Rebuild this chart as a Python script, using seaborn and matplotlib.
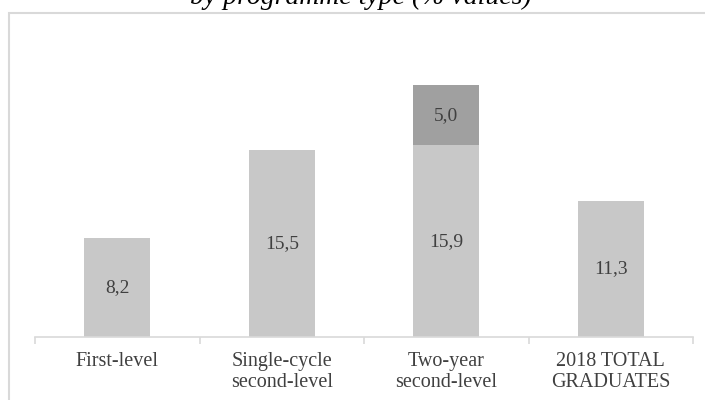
import matplotlib
matplotlib.use("Agg")
import matplotlib.pyplot as plt
import seaborn as sns
import pandas as pd
from matplotlib.patches import Rectangle

categories = ["First-level", "Single-cycle\nsecond-level", "Two-year\nsecond-level", "2018 TOTAL\nGRADUATES"]
base_values = [8.2, 15.5, 15.9, 11.3]
extra_values = [0.0, 0.0, 5.0, 0.0]
title_text = "by programme type (% values)"

sns.set_theme(style="white")
plt.rcParams['font.family'] = ['Liberation Serif', 'DejaVu Serif']

df = pd.DataFrame({"cat": categories, "base": base_values, "extra": extra_values})
df["total"] = df["base"] + df["extra"]

W, H = 705, 400
fig = plt.figure(figsize=(W / 100, H / 100), dpi=100)
ax_left, ax_right, ax_bottom, ax_top = 35, 693, 337, 20
ax = fig.add_axes([ax_left / W, 1 - ax_bottom / H, (ax_right - ax_left) / W, (ax_bottom - ax_top) / H])

light = "#c8c8c8"
dark = "#a0a0a0"
sns.barplot(data=df, x="cat", y="total", color=dark, saturation=1, width=0.40, ax=ax, linewidth=0)
sns.barplot(data=df, x="cat", y="base", color=light, saturation=1, width=0.40, ax=ax, linewidth=0)

px_per_unit = 12.05
ax.set_ylim(0, (ax_bottom - ax_top) / px_per_unit)
ax.set_xlim(-0.5, len(categories) - 0.5)

txt_color = "#404040"
for i, (b, e) in enumerate(zip(base_values, extra_values)):
    ax.text(i, b / 2, f"{b:.1f}".replace(".", ","), ha="center", va="center",
            fontsize=14, color=txt_color)
    if e > 0:
        ax.text(i, b + e / 2, f"{e:.1f}".replace(".", ","), ha="center", va="center",
                fontsize=14, color=txt_color)

ax.set_xlabel("")
ax.set_ylabel("")
ax.set_yticks([])
for s in ["left", "right", "top"]:
    ax.spines[s].set_visible(False)
ax.spines["bottom"].set_color("#d9d9d9")
ax.spines["bottom"].set_linewidth(1.2)

ax.set_xticks(range(len(categories)))
ax.set_xticklabels(categories, fontsize=14.5, color=txt_color, linespacing=1.12)
ax.tick_params(axis="x", which="major", length=0, pad=11)
ax.set_xticks([i - 0.5 for i in range(len(categories) + 1)], minor=True)
ax.tick_params(axis="x", which="minor", length=5, color="#d9d9d9", width=1.2, bottom=True)

# outer border (partially visible frame)
fig.patches.append(Rectangle((9 / W, -0.1), 1.2, 1 - 13 / H + 0.1, transform=fig.transFigure,
                             fill=False, edgecolor="#d9d9d9", linewidth=1.5))

fig.text(361 / W, 1 - 4 / H, title_text, ha="center", va="baseline", fontsize=20,
         style="italic", color="black")

fig.savefig("out.png", dpi=100)
